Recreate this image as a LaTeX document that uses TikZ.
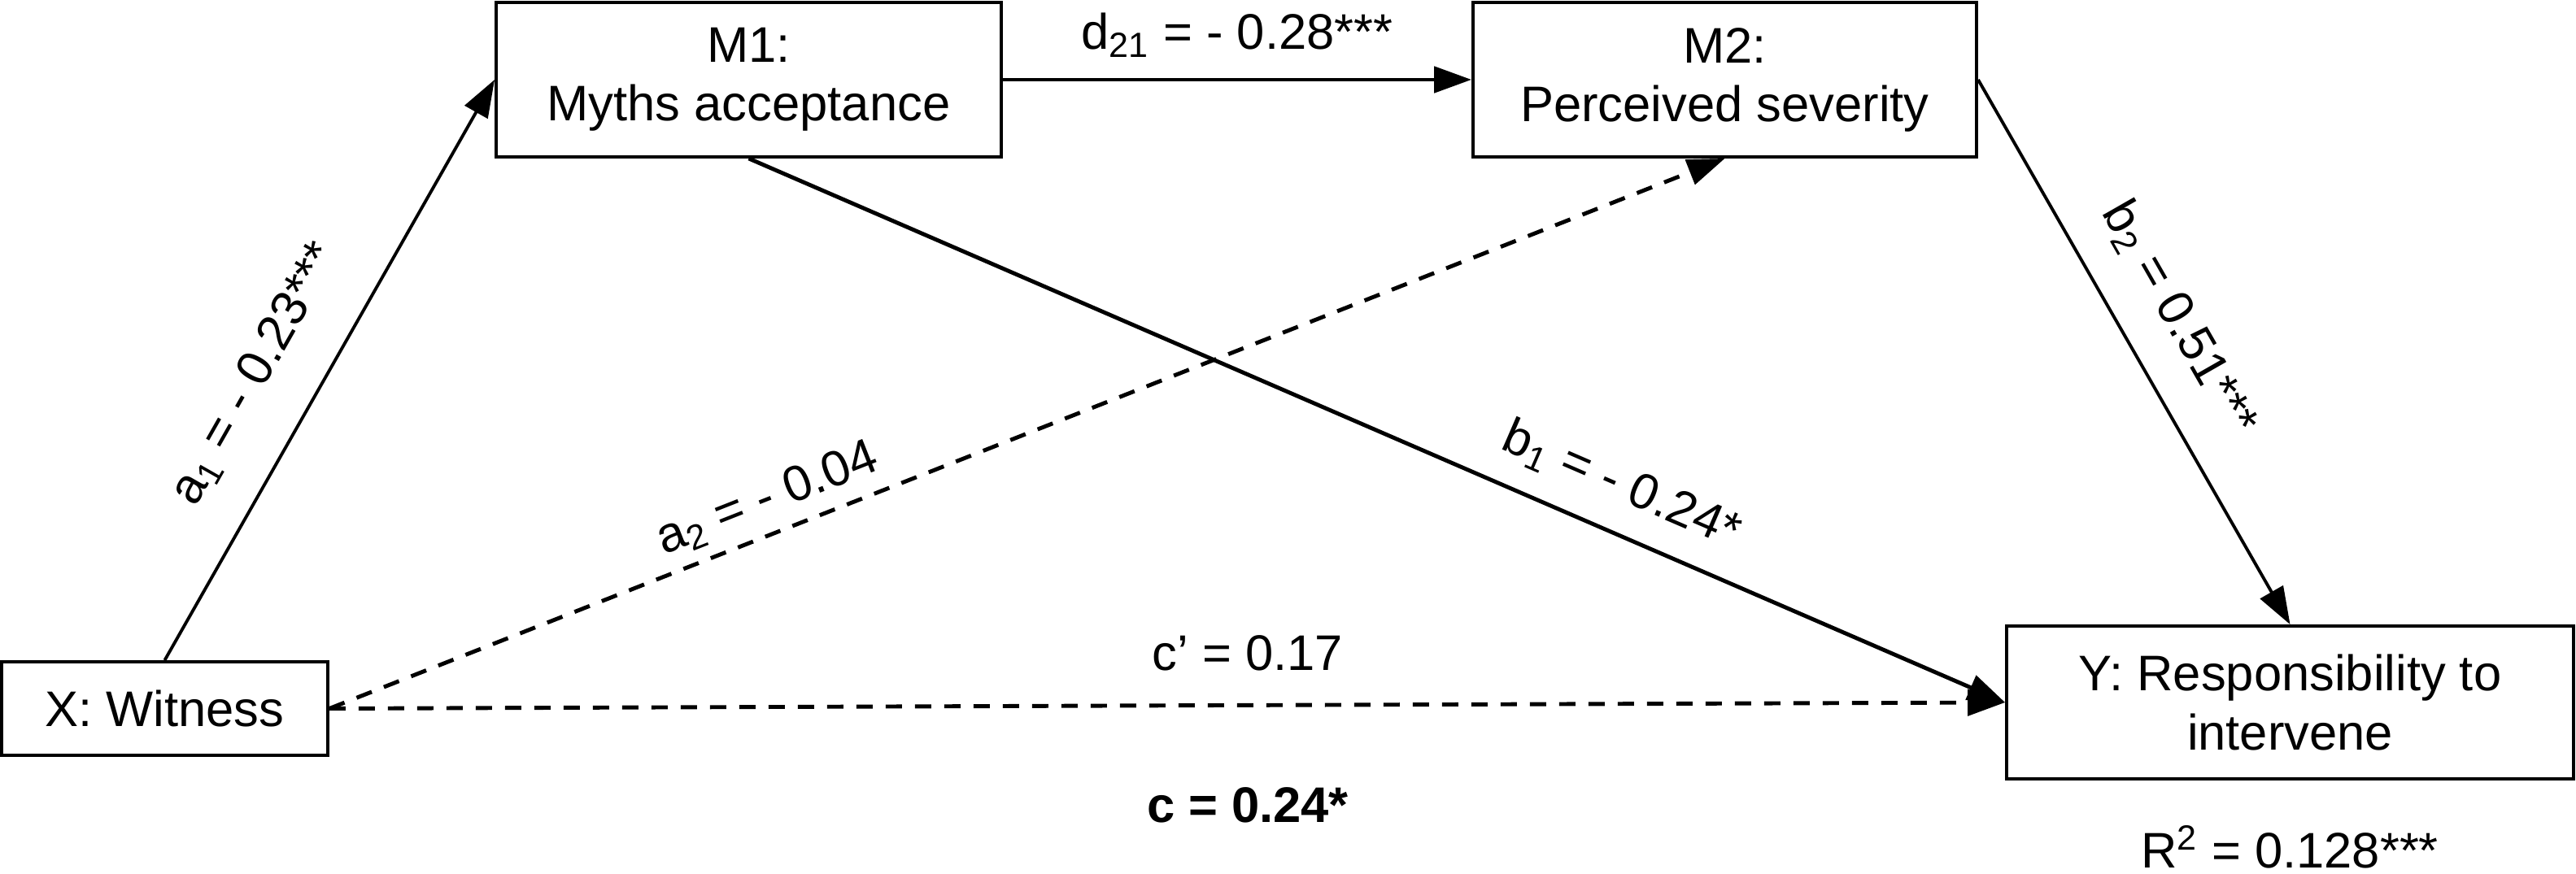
\documentclass[tikz,border=0pt]{standalone}
\usepackage{fontspec}
\setmainfont{Liberation Sans}
\usetikzlibrary{arrows.meta}
\begin{document}
\begin{tikzpicture}[x=1cm,y=1cm,
  txt/.style={font=\fontsize{17.5}{20.5}\selectfont},
  box/.style={txt, draw, line width=1.1pt, align=center, inner sep=0pt},
  lbl/.style={txt, inner sep=1pt},
  tipx/.style={-{Triangle[length=0.46cm,width=0.32cm]}},
  thinarr/.style={tipx, line width=1.1pt},
  thickarr/.style={tipx, line width=1.4pt},
  dasharr/.style={tipx, line width=1.4pt, dash pattern=on 0.2cm off 0.16cm},
]
\useasboundingbox (0,0) rectangle (31.67,-10.75);
\fill[white] (0,0) rectangle (31.67,-10.75);

\node[box, minimum width=4.01cm, minimum height=1.15cm] (X) at (2.025,-8.715) {X: Witness};
\node[box, minimum width=6.21cm, minimum height=1.90cm] (M1) at (9.205,-0.98) {\raisebox{-3pt}{M1:}\\\raisebox{-3pt}{Myths acceptance}};
\node[box, minimum width=6.19cm, minimum height=1.90cm] (M2) at (21.205,-0.98) {\raisebox{-3pt}{M2:}\\\raisebox{-3pt}{Perceived severity}};
\node[box, minimum width=6.97cm, minimum height=1.88cm] (Y) at (28.155,-8.64) {Y: Responsibility to\\intervene};

\draw[thinarr] (X.north) -- node[lbl, pos=0.44, sloped, above=0.45cm] {a\textsubscript{1} = - 0.23***} (M1.west);
\draw[thickarr] (M1.east) -- node[lbl, midway, above=0.22cm] {d\textsubscript{21} = - 0.28***} (M2.west);
\draw[thickarr] (M1.south) -- node[lbl, pos=0.68, sloped, above=0.25cm] {b\textsubscript{1} = - 0.24*} (Y.west);
\draw[dasharr] (X.east) -- node[lbl, pos=0.323, sloped, above=0.1cm] {a\textsubscript{2} = - 0.04} (M2.south);
\draw[thinarr] (M2.east) -- node[lbl, pos=0.49, sloped, above=0.36cm] {b\textsubscript{2} = 0.51***} (Y.north);
\draw[dasharr] (X.east) -- node[lbl, pos=0.548, above=0.36cm] {c’ = 0.17} (Y.west);

\node[lbl, font=\fontsize{17.5}{20.5}\selectfont\bfseries] (c) at (15.34,-9.9) {c = 0.24*};
\node[lbl] (R) at (28.15,-10.42) {R\textsuperscript{2} = 0.128***};
\end{tikzpicture}
\end{document}
